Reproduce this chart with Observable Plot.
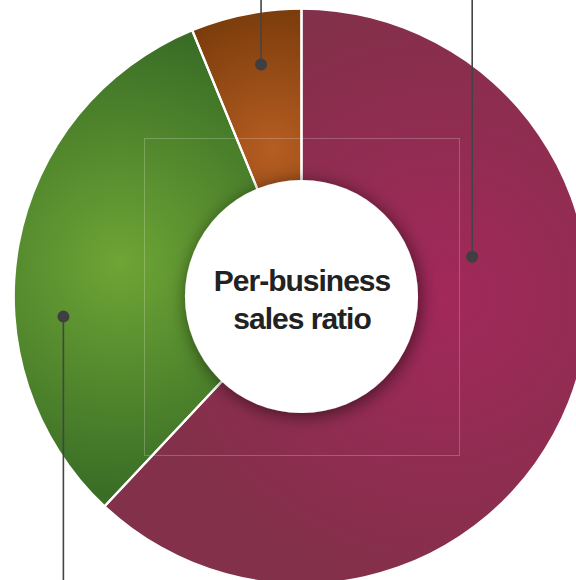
<!DOCTYPE html>
<html>
<head>
<meta charset="utf-8">
<script src="https://cdn.jsdelivr.net/npm/d3@7"></script>
<script src="https://cdn.jsdelivr.net/npm/@observablehq/plot@0.6"></script>
<style>
  html, body { margin: 0; padding: 0; background: #fff; }
  svg { display: block; }
  #chart g[aria-label="text"] text { letter-spacing: -1px; }
</style>
</head>
<body>
<div id="chart"></div>
<script>
// ---- data (clockwise from 12 o'clock) ----
const categories = ["Business A", "Business B", "Business C"];
const shares = [62.0, 31.8, 6.2];
const centerTitle = "Per-business\nsales ratio";

// ---- styling ----
const brightColors = ["#a2285a", "#6ea535", "#b65d22"];
const darkColors   = ["#83304a", "#3a6e26", "#773a0a"];
const OUTER = 1.82;   // outer radius in x-domain units
const INNER = 0.74;   // inner radius in x-domain units
// leader dots: fraction along slice angle, radius in domain units, direction of line
const leaderFrac = [0.344, 0.368, 0.55];
const leaderRad = [1.11, 1.52, 1.49];
const leaderDir = [1, -1, 1];

const pie = d3.pie().sort(null).value(d => d.value).startAngle(0).endAngle(2 * Math.PI);
const data = categories.map((c, i) => ({category: c, value: shares[i], i}));
const arcs = pie(data);

const leaders = arcs.map((a, i) => {
  const ang = a.startAngle + leaderFrac[i] * (a.endAngle - a.startAngle);
  const r = leaderRad[i];
  return {x: r * Math.sin(ang), y: r * Math.cos(ang), y2: leaderDir[i] * 3, category: a.data.category};
});

function donut(index, scales, values, dimensions, context) {
  const cx = scales.x(0), cy = scales.y(0);
  const unit = scales.x(1) - scales.x(0);
  const R = OUTER * unit, r0 = INNER * unit;
  const g = d3.create("svg:g");
  const defs = g.append("defs");
  // gradient focus: radius (px) and angle offset relative to slice middle
  const focusR = [140, 185, 150];
  const focusAng = [Math.PI / 2, null, null];
  const gradR = [300, 230, 150];
  arcs.forEach((a, i) => {
    const mid = focusAng[i] ?? (a.startAngle + a.endAngle) / 2;
    const gr = defs.append("radialGradient")
      .attr("id", "grad" + i)
      .attr("gradientUnits", "userSpaceOnUse")
      .attr("cx", focusR[i] * Math.sin(mid))
      .attr("cy", -focusR[i] * Math.cos(mid))
      .attr("r", gradR[i]);
    gr.append("stop").attr("offset", "0%").attr("stop-color", brightColors[i]);
    gr.append("stop").attr("offset", "100%").attr("stop-color", darkColors[i]);
  });
  const f = defs.append("filter").attr("id", "innerShadow")
    .attr("x", "-30%").attr("y", "-30%").attr("width", "160%").attr("height", "160%");
  f.append("feDropShadow").attr("dx", 2).attr("dy", 3).attr("stdDeviation", 9)
    .attr("flood-color", "#000").attr("flood-opacity", 0.55);
  const arc = d3.arc().innerRadius(0).outerRadius(R);
  g.append("g").attr("transform", `translate(${cx},${cy})`)
    .selectAll("path").data(arcs).join("path")
    .attr("d", arc)
    .attr("fill", (d, i) => `url(#grad${i})`);
  g.append("g").attr("transform", `translate(${cx},${cy})`)
    .selectAll("path").data(arcs).join("path")
    .attr("d", d3.arc().innerRadius(0).outerRadius(R + 2))
    .attr("fill", "none")
    .attr("stroke", "#fff")
    .attr("stroke-width", 2.2)
    .attr("stroke-linejoin", "round");
  g.append("circle").attr("cx", cx).attr("cy", cy).attr("r", r0)
    .attr("fill", "#fff").attr("filter", "url(#innerShadow)");
  return g.node();
}

const chart = Plot.plot({
  width: 576,
  height: 580,
  marginLeft: 144,
  marginRight: 117,
  marginTop: 138,
  marginBottom: 125,
  x: {domain: [-1, 1], axis: null},
  y: {domain: [-1, 1], axis: null},
  style: {background: "#fff", overflow: "hidden"},
  marks: [
    donut,
    Plot.frame({stroke: "#fff", strokeOpacity: 0.22, strokeWidth: 1}),
    Plot.link(leaders, {x1: "x", y1: "y", x2: "x", y2: "y2", stroke: "#444", strokeWidth: 1.6}),
    Plot.dot(leaders, {x: "x", y: "y", r: 6, fill: "#3f3f41", stroke: "none"}),
    Plot.text([centerTitle], {
      x: 0, y: 0, text: d => d, dy: 1,
      fontSize: 30, fontWeight: "bold", lineHeight: 1.25,
      fontFamily: "Liberation Sans, Arial, sans-serif",
      fill: "#222"
    })
  ]
});
document.getElementById("chart").appendChild(chart);
</script>
</body>
</html>
